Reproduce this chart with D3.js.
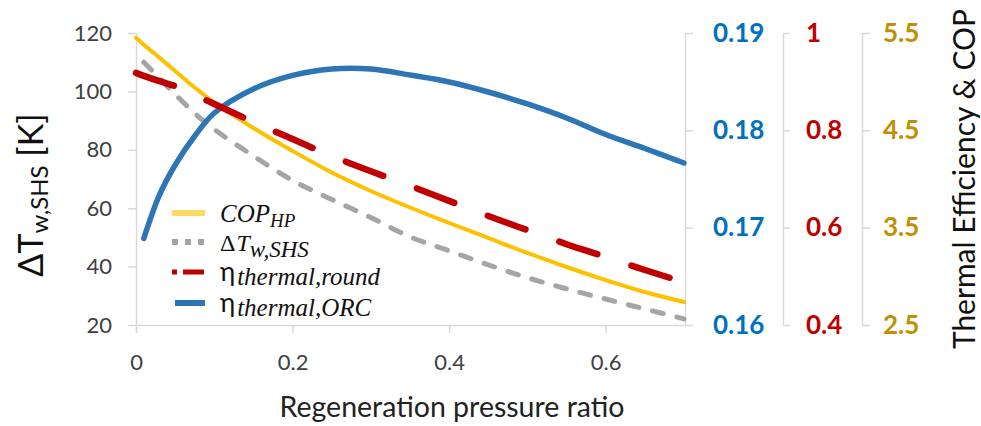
<!DOCTYPE html>
<html><head><meta charset="utf-8">
<script src="https://cdn.jsdelivr.net/npm/d3@7"></script>
<style>body{margin:0;background:#fff}svg{display:block}</style>
</head><body><svg id="c" width="981" height="426"></svg>
<script>
// ---- data ----
const xValues = [0, 0.01, 0.03, 0.05, 0.075, 0.1, 0.15, 0.2, 0.25, 0.3, 0.35, 0.4, 0.45, 0.5, 0.55, 0.6, 0.65, 0.7];
const copHP = [5.45, 5.38, 5.245, 5.11, 4.94, 4.786, 4.524, 4.288, 4.067, 3.877, 3.707, 3.548, 3.394, 3.24, 3.096, 2.962, 2.839, 2.736];
const deltaTwSHS = [null, 110.0, 104.5, 99.0, 92.5, 87.0, 77.9, 69.5, 63.0, 56.8, 50.2, 45.4, 40.6, 36.2, 32.4, 28.9, 25.5, 22.1];
const etaRound = [0.918, 0.912, 0.901, 0.891, 0.873, 0.854, 0.817, 0.782, 0.747, 0.716, 0.686, 0.655, 0.624, 0.595, 0.566, 0.540, 0.513, 0.488];
const etaORC = [null, 0.1689, 0.17336, 0.17644, 0.17942, 0.18178, 0.18425, 0.18564, 0.18630, 0.18630, 0.18568, 0.18497, 0.18394, 0.18271, 0.18127, 0.17957, 0.17813, 0.17664];

const xTicks = [0, 0.2, 0.4, 0.6];
const xTickLabels = ["0", "0.2", "0.4", "0.6"];
const leftTicks = [20, 40, 60, 80, 100, 120];
const orcTicks = [0.16, 0.17, 0.18, 0.19];
const roundTicks = [0.4, 0.6, 0.8, 1];
const roundTickLabels = ["0.4", "0.6", "0.8", "1"];
const copTicks = [2.5, 3.5, 4.5, 5.5];

// ---- layout ----
const svg = d3.select("#c");
const SANS = "Lato, 'Open Sans', sans-serif";
const SERIF = "'Liberation Serif', 'DejaVu Serif', serif";
const AXC = "#d9d9d9";

const x = d3.scaleLinear().domain([0, 0.7]).range([136, 684]);
const yL = d3.scaleLinear().domain([20, 120]).range([325, 33]);
const yORC = d3.scaleLinear().domain([0.16, 0.19]).range([325, 33]);
const yRound = d3.scaleLinear().domain([0.4, 1]).range([325, 33]);
const yCOP = d3.scaleLinear().domain([2.5, 5.5]).range([325, 33]);

function styleAxis(g, color, size, weight) {
  g.select(".domain").attr("stroke", AXC).attr("stroke-width", 1.5);
  g.selectAll(".tick line").attr("stroke", AXC).attr("stroke-width", 1.5);
  g.selectAll(".tick text").attr("fill", color).attr("font-family", SANS)
    .attr("font-size", size).attr("font-weight", weight);
}

// left axis
const gL = svg.append("g").attr("transform", "translate(136,0)")
  .call(d3.axisLeft(yL).tickValues(leftTicks).tickSize(8).tickPadding(16).tickSizeOuter(0));
styleAxis(gL, "#404040", 22, 400);

// bottom axis
const gB = svg.append("g").attr("transform", "translate(0,325)")
  .call(d3.axisBottom(x).tickValues(xTicks).tickFormat((d, i) => xTickLabels[i]).tickSize(8).tickPadding(21).tickSizeOuter(0));
styleAxis(gB, "#404040", 22, 400);

// right axes
const gO = svg.append("g").attr("transform", "translate(685,0)")
  .call(d3.axisRight(yORC).tickValues(orcTicks).tickFormat(d3.format(".2f")).tickSize(8).tickPadding(20).tickSizeOuter(0));
styleAxis(gO, "#0070c0", 26, 700);
const gR = svg.append("g").attr("transform", "translate(783,0)")
  .call(d3.axisRight(yRound).tickValues(roundTicks).tickFormat((d, i) => roundTickLabels[i]).tickSize(7).tickPadding(16).tickSizeOuter(0));
styleAxis(gR, "#c00000", 26, 700);
const gC = svg.append("g").attr("transform", "translate(862,0)")
  .call(d3.axisRight(yCOP).tickValues(copTicks).tickFormat(d3.format(".1f")).tickSize(8).tickPadding(13).tickSizeOuter(0));
styleAxis(gC, "#bf9000", 26, 700);

// ---- series ----
function mkLine(yScale, vals) {
  return d3.line()
    .defined((d, i) => vals[i] !== null)
    .x((d, i) => x(xValues[i]))
    .y((d, i) => yScale(vals[i]))
    .curve(d3.curveCatmullRom.alpha(0.5))(xValues);
}
const plot = svg.append("g").attr("fill", "none").attr("stroke-linecap", "round").attr("stroke-linejoin", "round");
plot.append("path").attr("d", mkLine(yL, deltaTwSHS)).attr("stroke", "#a5a5a5").attr("stroke-width", 5).attr("stroke-dasharray", "11 14");
plot.append("path").attr("d", mkLine(yORC, etaORC)).attr("stroke", "#2e75b6").attr("stroke-width", 5.5);
plot.append("path").attr("d", mkLine(yCOP, copHP)).attr("stroke", "#ffc000").attr("stroke-width", 4);
plot.append("path").attr("d", mkLine(yRound, etaRound)).attr("stroke", "#c00000").attr("stroke-width", 6.5).attr("stroke-dasharray", "40 36");

// ---- legend ----
const leg = svg.append("g");
leg.append("line").attr("x1", 172).attr("x2", 205).attr("y1", 213).attr("y2", 213).attr("stroke", "#ffd966").attr("stroke-width", 6);
leg.append("line").attr("x1", 172).attr("x2", 205).attr("y1", 242).attr("y2", 242).attr("stroke", "#a5a5a5").attr("stroke-width", 6).attr("stroke-dasharray", "6 7");
leg.append("line").attr("x1", 172).attr("x2", 204).attr("y1", 272).attr("y2", 272).attr("stroke", "#c00000").attr("stroke-width", 5).attr("stroke-dasharray", "5 6 21 6");
leg.append("line").attr("x1", 175).attr("x2", 205).attr("y1", 303).attr("y2", 303).attr("stroke", "#2e75b6").attr("stroke-width", 6);

function legText(yBase, parts) {
  const t = leg.append("text").attr("x", 220).attr("y", yBase).attr("fill", "#111");
  parts.forEach(p => {
    t.append("tspan").text(p.t).attr("font-family", p.f).attr("font-size", p.s)
      .attr("font-style", p.i ? "italic" : "normal").attr("dy", p.dy || 0).attr("dx", p.dx || 0);
  });
}
legText(222, [{t: "COP", f: SERIF, s: 25, i: true}, {t: "HP", f: SERIF, s: 19, i: true, dy: 5}]);
legText(251, [{t: "Δ", f: SERIF, s: 24}, {t: "T", f: SERIF, s: 24, i: true, dx: 1}, {t: "w,SHS", f: SERIF, s: 23, i: true, dy: 6}]);
legText(281, [{t: "η", f: SANS, s: 26}, {t: "thermal,round", f: SERIF, s: 25, i: true, dy: 4, dx: 2}]);
legText(312, [{t: "η", f: SANS, s: 26}, {t: "thermal,ORC", f: SERIF, s: 25, i: true, dy: 4, dx: 2}]);

// ---- titles ----
svg.append("text").attr("x", 452).attr("y", 417).attr("text-anchor", "middle")
  .attr("font-family", SANS).attr("font-size", 28.5).attr("fill", "#222")
  .text("Regeneration pressure ratio");

const lt = svg.append("text").attr("transform", "translate(43,195) rotate(-90)").attr("text-anchor", "middle")
  .attr("font-family", SANS).attr("fill", "#111");
lt.append("tspan").attr("font-size", 34).text("ΔT");
lt.append("tspan").attr("font-size", 24).attr("dy", 5).text("w,SHS");
lt.append("tspan").attr("font-size", 34).attr("dy", -5).text(" [K]");

svg.append("text").attr("transform", "translate(975,179) rotate(-90)").attr("text-anchor", "middle")
  .attr("font-family", SANS).attr("font-size", 30).attr("fill", "#111")
  .text("Thermal Efficiency & COP");
</script>
</body></html>
